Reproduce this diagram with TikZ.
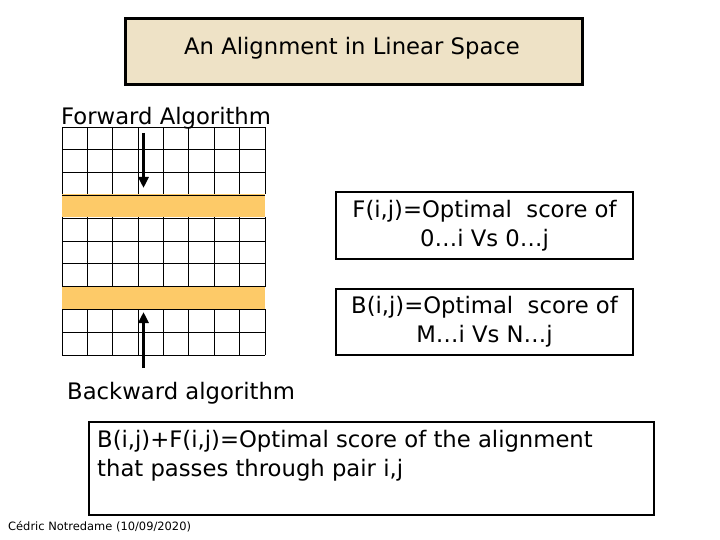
\documentclass[tikz,border=0pt]{standalone}
\usepackage{fontspec}
\setmainfont{DejaVu Sans}
\usetikzlibrary{arrows.meta}
\definecolor{parch}{RGB}{238,226,198}
\definecolor{band}{RGB}{253,202,104}
\begin{document}
\begin{tikzpicture}[x=1bp,y=-1bp,
  txt/.style={font=\fontsize{22.8}{29}\selectfont, inner sep=0pt},
  infobox/.style={draw=black, line width=2bp, fill=white, inner sep=0pt},
  gridline/.style={draw=black, line width=0.8bp},
  bigarrow/.style={line width=3.2bp, -{Triangle[width=10bp,length=11bp]}}]
\useasboundingbox (0,0) rectangle (720,540);
% title
\node[draw=black, line width=3bp, fill=parch, minimum width=456bp, minimum height=66bp, inner sep=0pt] (title) at (354,51.5) {};
\node[txt] (titletext) at (352,48) {An Alignment in Linear Space};
% labels
\node[txt, anchor=west] (fwd) at (61,118) {Forward Algorithm};
\node[txt, anchor=west] (bwd) at (67,393) {Backward algorithm};
% grid
\fill[band] (62,194.4) rectangle (265,217.2);
\fill[band] (62,286.6) rectangle (265,309.4);
\foreach \k in {0,...,10} {
  \draw[gridline] (62,127+\k*22.8) -- (265,127+\k*22.8);
}
\foreach \c in {0,...,8} {
  \draw[gridline] (62+\c*25.375,127) -- (62+\c*25.375,194.4);
  \draw[gridline] (62+\c*25.375,217.2) -- (62+\c*25.375,286.6);
  \draw[gridline] (62+\c*25.375,309.4) -- (62+\c*25.375,355);
}
\coordinate (da) at (143.5,133);
\coordinate (db) at (143.5,188);
\coordinate (ua) at (143.5,368);
\coordinate (ub) at (143.5,312);
\draw[bigarrow] (da) -- (db);
\draw[bigarrow] (ua) -- (ub);
% boxes
\node[infobox, minimum width=297bp, minimum height=66bp] (fbox) at (484.5,225.5) {};
\node[txt, align=center] (ftext) at (fbox.center) {F(i,j)=Optimal\ \ score of\\0…i Vs 0…j};
\node[infobox, minimum width=297bp, minimum height=66bp] (bbox) at (484.5,322) {};
\node[txt, align=center] (btext) at (bbox.center) {B(i,j)=Optimal\ \ score of\\M…i Vs N…j};
\node[infobox, minimum width=565bp, minimum height=93bp] (sbox) at (371.5,468.5) {};
\node[txt, align=left, anchor=north west] (stext) at (97,430) {B(i,j)+F(i,j)=Optimal score of the alignment\\that passes through pair i,j};
% footer
\node[font=\fontsize{11.5}{13}\selectfont, inner sep=0pt, anchor=west] (foot) at (8,527) {Cédric Notredame (10/09/2020)};
\end{tikzpicture}
\end{document}
